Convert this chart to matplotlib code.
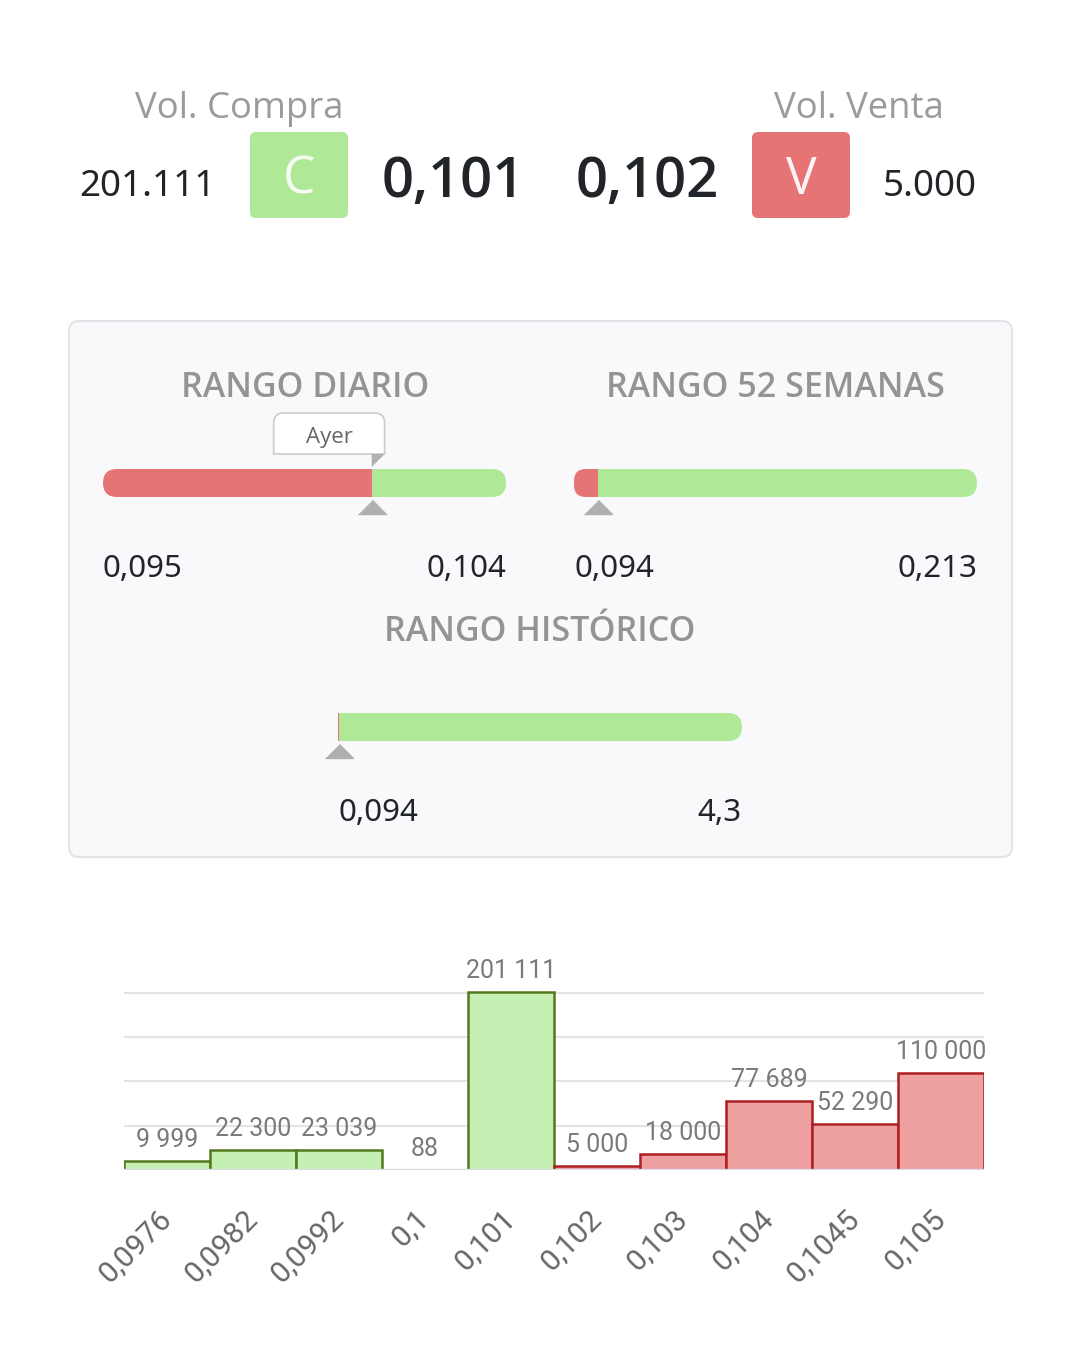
import numpy as np
import matplotlib
matplotlib.use('Agg')
import matplotlib.pyplot as plt
import matplotlib.transforms as mtransforms
from matplotlib.patches import FancyBboxPatch, PathPatch, Polygon
from matplotlib.path import Path

# Datos de la cabecera
vol_compra = 201111
vol_venta = 5000
precio_compra = 0.101
precio_venta = 0.102

# Rangos (minimo, maximo) y precio actual
precio_actual = 0.101
precio_ayer = 0.101
rango_diario = (0.095, 0.104)
rango_52 = (0.094, 0.213)
rango_hist = (0.094, 4.3)

# Libro de ordenes (profundidad)
precios_libro = [0.0976, 0.0982, 0.0992, 0.1, 0.101, 0.102, 0.103, 0.104, 0.1045, 0.105]
volumen_libro = [9999, 22300, 23039, 88, 201111, 5000, 18000, 77689, 52290, 110000]
lado_libro = ['C', 'C', 'C', 'C', 'C', 'V', 'V', 'V', 'V', 'V']

VERDE = '#afe997'
ROJO = '#e57575'
GRIS_TXT = '#949494'
OSCURO = '#212529'
FONT = ['Open Sans', 'DejaVu Sans']
FONT_NUM = ['Noto Sans', 'DejaVu Sans']
FONT_CHART = ['Roboto', 'DejaVu Sans']


def fmt_dec(v):
    return f'{v:g}'.replace('.', ',')


def fmt_miles(v, sep):
    return f'{v:,}'.replace(',', sep)


W, H = 1080, 1356
fig = plt.figure(figsize=(W / 100, H / 100), dpi=100)
fig.patch.set_facecolor('white')


def fig_rect(x0, y0, x1, y1):
    # pixeles (y hacia abajo) -> fraccion de figura
    return [x0 / W, (H - y1) / H, (x1 - x0) / W, (y1 - y0) / H]


# Eje base en pixeles para textos y cajas
ax = fig.add_axes([0, 0, 1, 1])
ax.set_xlim(0, W)
ax.set_ylim(H, 0)
ax.axis('off')

# ---------------- Cabecera ----------------
ax.text(239, 118, 'Vol. Compra', ha='center', va='baseline', fontsize=26.3,
        color='#9b9b9b', family=FONT)
ax.text(859, 118, 'Vol. Venta', ha='center', va='baseline', fontsize=26.3,
        color='#9b9b9b', family=FONT)

ax.add_patch(FancyBboxPatch((250, 132), 98, 86, boxstyle='round,pad=0,rounding_size=6',
                            fc=VERDE, ec='none'))
ax.add_patch(FancyBboxPatch((752, 132), 98, 86, boxstyle='round,pad=0,rounding_size=6',
                            fc=ROJO, ec='none'))
ax.text(299, 194, 'C', ha='center', va='baseline', fontsize=37, color='#f6fcf3', family=FONT)
ax.text(801, 194, 'V', ha='center', va='baseline', fontsize=37, color='#fdf3f3', family=FONT)

ax.text(147, 196, fmt_miles(vol_compra, '.'), ha='center', va='baseline', fontsize=26.5,
        color=OSCURO, family=FONT_NUM, weight='medium')
ax.text(930, 196, fmt_miles(vol_venta, '.'), ha='center', va='baseline', fontsize=26.5,
        color=OSCURO, family=FONT_NUM, weight='medium')
ax.text(453, 197, fmt_dec(precio_compra), ha='center', va='baseline', fontsize=40.5,
        color=OSCURO, family=FONT, weight='semibold')
ax.text(647, 197, fmt_dec(precio_venta), ha='center', va='baseline', fontsize=40.5,
        color=OSCURO, family=FONT, weight='semibold')

# ---------------- Panel de rangos ----------------
ax.add_patch(FancyBboxPatch((69, 321), 943, 536, boxstyle='round,pad=0,rounding_size=10',
                            fc='#f9f9fc', ec='#e3e3e8', lw=1.5))
for xt, yt, titulo in [(305, 397, 'RANGO DIARIO'), (775, 397, 'RANGO 52 SEMANAS'),
                       (540, 641, 'RANGO HISTÓRICO')]:
    ax.text(xt, yt, titulo, ha='center', va='baseline', fontsize=24.5,
            color=GRIS_TXT, family=FONT, weight='semibold')


def barra_rango(px, rango, precio, ayer=None):
    lo, hi = rango
    x0, y0, x1, y1 = px
    ancho, alto = x1 - x0, y1 - y0
    axb = fig.add_axes(fig_rect(*px))
    axb.set_xlim(lo, hi)
    axb.set_ylim(0, 1)
    axb.axis('off')

    r = (alto / 2) / ancho          # radio en fraccion de eje
    asp = ancho / alto
    f = (precio - lo) / (hi - lo)

    clip_rojo = FancyBboxPatch((0, 0), f + 2 * r, 1,
                               boxstyle=f'round,pad=0,rounding_size={min(r, f / 2 + 1e-4)}',
                               mutation_aspect=asp, transform=axb.transAxes)
    clip_verde = FancyBboxPatch((f - 2 * r, 0), 1 - f + 2 * r, 1,
                                boxstyle=f'round,pad=0,rounding_size={r}',
                                mutation_aspect=asp, transform=axb.transAxes)
    b1 = axb.barh(0.5, precio - lo, left=lo, height=1, color=ROJO, lw=0)
    b2 = axb.barh(0.5, hi - precio, left=precio, height=1, color=VERDE, lw=0)
    for p in b1:
        p.set_clip_path(clip_rojo)
    for p in b2:
        p.set_clip_path(clip_verde)

    tri = [(-1, -0.5), (1, -0.5), (0, 0.5)]
    axb.plot([precio], [-10 / alto], marker=tri, ms=20.2, color='#b0b0b0',
             lw=0, clip_on=False)

    axb.annotate(fmt_dec(lo), xy=(0, 0), xycoords='axes fraction', xytext=(0, -80),
                 textcoords='offset pixels', ha='left', va='baseline', fontsize=22.5,
                 color=OSCURO, family=FONT_NUM, weight='medium')
    axb.annotate(fmt_dec(hi), xy=(1, 0), xycoords='axes fraction', xytext=(0, -80),
                 textcoords='offset pixels', ha='right', va='baseline', fontsize=22.5,
                 color=OSCURO, family=FONT_NUM, weight='medium')

    if ayer is not None:
        blend = mtransforms.blended_transform_factory(axb.transData, axb.transAxes)
        tr = mtransforms.Affine2D() + mtransforms.ScaledTranslation(ayer, 1, blend)
        bx0, bx1, by0, by1, rr = -98, 13, 15, 56, 10
        verts = [(bx0, by0), (bx0, by1 - rr), (bx0, by1), (bx0 + rr, by1),
                 (bx1 - rr, by1), (bx1, by1), (bx1, by1 - rr), (bx1, by0), (bx0, by0)]
        codes = [Path.MOVETO, Path.LINETO, Path.CURVE3, Path.CURVE3, Path.LINETO,
                 Path.CURVE3, Path.CURVE3, Path.LINETO, Path.CLOSEPOLY]
        caja = PathPatch(Path(verts, codes), fc='white', ec='#cfcfcf', lw=1.3,
                         transform=tr, clip_on=False)
        axb.add_artist(caja)
        bandera = Polygon([(0, 15), (13, 15), (0, 2)], closed=True, fc='#b0b0b0',
                          ec='none', transform=tr, clip_on=False)
        axb.add_artist(bandera)
        axb.annotate('Ayer', xy=(ayer, 1), xycoords=blend, xytext=(-42.5, 26),
                     textcoords='offset pixels', ha='center', va='baseline',
                     fontsize=16, color='#666666', family=FONT)
    return axb


barra_rango((103, 469, 506, 497), rango_diario, precio_actual, ayer=precio_ayer)
barra_rango((574, 469, 977, 497), rango_52, precio_actual)
barra_rango((338, 713, 742, 741), rango_hist, precio_actual)

# ---------------- Grafico de profundidad ----------------
px_por_unidad = 178 / 201111
y_max = 220000
alto_px = y_max * px_por_unidad
axc = fig.add_axes(fig_rect(124, 1170 - alto_px, 984, 1170))
x = np.arange(len(precios_libro))
relleno = ['#c6f0b3' if s == 'C' else '#eea0a0' for s in lado_libro]
borde = ['#56781f' if s == 'C' else '#ad1f22' for s in lado_libro]
barras = axc.bar(x, volumen_libro, width=1.0, color=relleno, edgecolor=borde,
                 linewidth=1.8, zorder=2)
axc.set_xlim(-0.5, len(x) - 0.5)
axc.set_ylim(0, y_max)
axc.set_yticks([50000, 100000, 150000, 200000])
axc.grid(axis='y', color='#e4e4e4', lw=1.5, zorder=0)
axc.set_axisbelow(True)
axc.axhline(0, color='#d6dce4', lw=2.4, zorder=3)
axc.tick_params(axis='y', left=False, labelleft=False)
axc.set_xticks(x)
axc.set_xticklabels([fmt_dec(p) for p in precios_libro], rotation=45, ha='right',
                    va='center', rotation_mode='anchor', fontsize=21.5, color='#666666',
                    family=FONT_CHART)
axc.tick_params(axis='x', length=0, pad=32)
for s in axc.spines.values():
    s.set_visible(False)
axc.patch.set_alpha(0)

for xi, v in zip(x, volumen_libro):
    axc.annotate(fmt_miles(v, ' '), xy=(xi, v), xytext=(0, 9), textcoords='offset pixels',
                 ha='center', va='bottom', fontsize=18, color='#7a7a7a', family=FONT_CHART)

plt.savefig('out.png', dpi=100, facecolor='white')
